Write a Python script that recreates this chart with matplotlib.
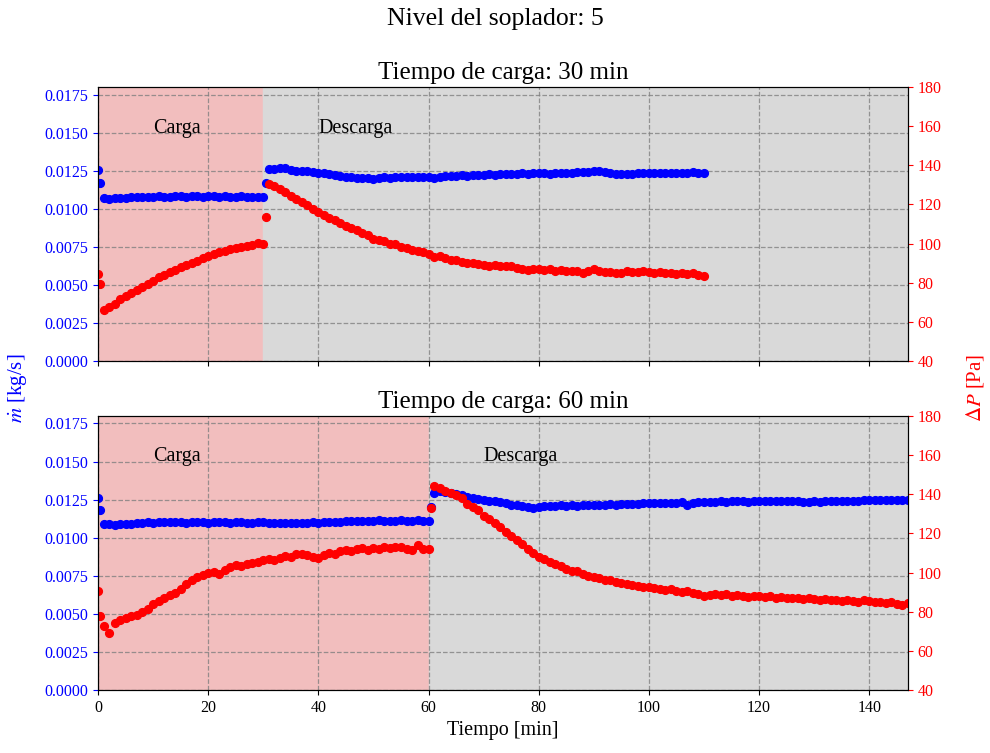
import numpy as np
import matplotlib
matplotlib.use('Agg')
import matplotlib.pyplot as plt

plt.rcParams.update({'font.family': 'Liberation Serif',
                     'mathtext.fontset': 'stix',
                     'font.size': 11})

# ---------------- datos ----------------
nivel = 5
t_carga = [30, 60]

# panel 1: carga 30 min
t1_c = [0, 0.4] + list(range(1, 31))
m1_c = [0.01255, 0.01167, 0.01068, 0.01066, 0.01070, 0.01068, 0.01072, 0.01075,
        0.01078, 0.01076, 0.01080, 0.01078, 0.01082, 0.01079, 0.01080, 0.01083,
        0.01081, 0.01079, 0.01082, 0.01085, 0.01080, 0.01083, 0.01081, 0.01079,
        0.01082, 0.01080, 0.01078, 0.01081, 0.01079, 0.01076, 0.01080, 0.01077]
p1_c = [84.6, 79.3, 66.0, 67.5, 69.0, 71.5, 73.2, 75.0, 76.2, 77.8, 79.5, 81.0,
        82.8, 84.0, 85.5, 86.5, 87.8, 89.0, 90.0, 91.2, 92.5, 93.8, 94.5, 95.5,
        96.0, 97.0, 97.5, 98.2, 99.0, 99.5, 100.5, 99.8]
t1_d = [30.5] + list(range(31, 111))
m1_d = [0.01167, 0.01262, 0.01264, 0.01266, 0.01265, 0.01258, 0.01250, 0.01248,
        0.01245, 0.01240, 0.01236, 0.01232, 0.01228, 0.01222, 0.01216, 0.01212,
        0.01210, 0.01205, 0.01205, 0.01200, 0.01196, 0.01204, 0.01208, 0.01205,
        0.01210, 0.01208, 0.01212, 0.01210, 0.01208, 0.01212, 0.01210, 0.01205,
        0.01212, 0.01216, 0.01218, 0.01215, 0.01220, 0.01218, 0.01222, 0.01220,
        0.01224, 0.01226, 0.01224, 0.01228, 0.01230, 0.01228, 0.01230, 0.01232,
        0.01230, 0.01232, 0.01234, 0.01232, 0.01230, 0.01232, 0.01234, 0.01236,
        0.01238, 0.01240, 0.01242, 0.01244, 0.01246, 0.01245, 0.01242, 0.01236,
        0.01230, 0.01226, 0.01228, 0.01230, 0.01232, 0.01234, 0.01232, 0.01234,
        0.01236, 0.01238, 0.01236, 0.01234, 0.01236, 0.01238, 0.01240, 0.01238,
        0.01236]
p1_d = [113.5, 130.6, 129.5, 128.0, 126.2, 124.5, 122.9, 121.5, 119.8, 117.9,
        116.0, 114.8, 113.2, 111.8, 110.5, 109.0, 108.2, 107.0, 105.4, 104.6,
        102.6, 102.0, 101.2, 100.0, 99.6, 98.5, 97.8, 96.6, 96.0, 95.8,
        94.8, 93.2, 93.8, 92.5, 91.4, 91.8, 90.6, 90.2, 90.0, 89.4,
        89.2, 88.8, 89.0, 88.6, 88.4, 88.8, 87.6, 87.0, 86.4, 86.8,
        87.0, 86.6, 86.8, 86.0, 86.4, 86.2, 86.0, 85.8, 85.2, 85.8,
        87.0, 86.0, 85.4, 85.6, 84.8, 85.2, 85.8, 85.6, 85.4, 86.0,
        85.4, 85.2, 85.6, 84.8, 85.0, 84.6, 85.0, 84.4, 85.2, 84.0,
        83.2]

# panel 2: carga 60 min
t2_c = [0, 0.4] + list(range(1, 61))
m2_c = [0.01261, 0.01180,
        0.01092, 0.01088, 0.01086, 0.01087, 0.01090, 0.01093, 0.01096, 0.01098, 0.01100, 0.01098,
        0.01102, 0.01104, 0.01100, 0.01103, 0.01101, 0.01099, 0.01102, 0.01104, 0.01101, 0.01099,
        0.01101, 0.01103, 0.01100, 0.01098, 0.01100, 0.01102, 0.01099, 0.01097, 0.01100, 0.01102,
        0.01098, 0.01096, 0.01099, 0.01097, 0.01094, 0.01098, 0.01096, 0.01099, 0.01101, 0.01098,
        0.01100, 0.01103, 0.01106, 0.01104, 0.01107, 0.01109, 0.01108, 0.01110, 0.01112, 0.01110,
        0.01116, 0.01112, 0.01110, 0.01111, 0.01114, 0.01112, 0.01110, 0.01113, 0.01111, 0.01112]
p2_c = [90.4, 77.6,
        72.5, 69.1, 74.2, 75.5, 76.8, 77.6, 78.4, 79.6, 81.5, 83.8,
        85.2, 87.0, 88.4, 89.6, 91.8, 94.0, 96.2, 97.5, 98.6, 99.8,
        100.5, 99.4, 101.2, 102.6, 103.8, 103.2, 104.2, 104.8, 105.6, 106.4,
        107.0, 106.2, 107.6, 108.4, 107.8, 109.2, 109.6, 108.8, 108.0, 107.4,
        108.8, 110.2, 109.6, 111.0, 111.6, 110.8, 111.8, 112.4, 111.6, 112.6,
        112.0, 113.2, 112.4, 112.8, 113.0, 112.2, 111.6, 114.2, 112.0, 111.8]
t2_d = [60.5] + list(range(61, 148))
m2_d = [0.01200,
        0.01294, 0.01305, 0.01300, 0.01292, 0.01284, 0.01278, 0.01270, 0.01262, 0.01256, 0.01250,
        0.01244, 0.01238, 0.01232, 0.01225, 0.01218, 0.01214, 0.01208, 0.01204, 0.01198, 0.01202,
        0.01206, 0.01210, 0.01208, 0.01212, 0.01210, 0.01213, 0.01211, 0.01214, 0.01212, 0.01216,
        0.01214, 0.01218, 0.01220, 0.01218, 0.01222, 0.01220, 0.01224, 0.01222, 0.01225, 0.01228,
        0.01226, 0.01230, 0.01228, 0.01226, 0.01230, 0.01232, 0.01218, 0.01228, 0.01232, 0.01234,
        0.01236, 0.01234, 0.01238, 0.01236, 0.01238, 0.01240, 0.01238, 0.01236, 0.01238, 0.01240,
        0.01238, 0.01240, 0.01242, 0.01240, 0.01244, 0.01242, 0.01238, 0.01236, 0.01236, 0.01238,
        0.01236, 0.01238, 0.01240, 0.01240, 0.01240, 0.01242, 0.01244, 0.01244, 0.01246, 0.01248,
        0.01248, 0.01248, 0.01248, 0.01248, 0.01248, 0.01248, 0.01248]
p2_d = [132.7,
        144.3, 143.4, 141.5, 140.5, 139.8, 138.2, 135.0, 133.4, 131.8, 129.0,
        127.2, 125.4, 123.0, 120.6, 118.8, 116.8, 114.6, 112.2, 110.2, 108.0,
        106.8, 105.6, 104.2, 103.2, 102.0, 101.0, 100.6, 99.2, 98.4, 97.6,
        97.0, 96.4, 96.0, 95.2, 94.6, 94.2, 93.6, 93.0, 92.8, 92.4,
        92.0, 91.8, 91.2, 91.6, 90.6, 90.2, 90.8, 89.6, 89.0, 88.2,
        88.6, 88.8, 88.4, 88.8, 88.2, 88.6, 88.0, 87.6, 88.2, 87.8,
        87.4, 88.0, 87.2, 87.6, 87.0, 86.8, 87.2, 86.6, 87.0, 86.4,
        86.0, 86.4, 85.8, 86.2, 85.6, 86.0, 85.4, 85.0, 85.8, 85.2,
        84.8, 85.0, 84.4, 84.8, 84.0, 83.6, 84.4]

ensayos = [(t1_c + t1_d, m1_c + m1_d, p1_c + p1_d),
           (t2_c + t2_d, m2_c + m2_d, p2_c + p2_d)]
t_max = 147

fig, axs = plt.subplots(2, 1, figsize=(9.9, 7.53), dpi=100, sharex=True)
fig.subplots_adjust(left=0.099, right=0.917, top=0.8845, bottom=0.0837, hspace=0.2)

for ax, tc, (t, m, p) in zip(axs, t_carga, ensayos):
    ax.axvspan(0, tc, color='#f2bebe', zorder=0)
    ax.axvspan(tc, t_max, color='#d9d9d9', zorder=0)
    ax.grid(True, color='gray', linestyle='--', linewidth=0.9, alpha=0.8)
    ax.plot(t, m, 'o', color='blue', ms=5.6, zorder=3)
    ax.set_ylim(0, 0.018)
    ax.set_yticks(np.arange(0, 0.0176, 0.0025))
    ax.yaxis.set_major_formatter(matplotlib.ticker.FormatStrFormatter('%.4f'))
    ax.tick_params(axis='y', colors='blue', labelsize=11.5)
    ax.tick_params(axis='x', labelsize=11.5)
    ax.set_xlim(0, t_max)
    ax.set_title('Tiempo de carga: %d min' % tc, fontsize=18)
    ax.text(10, 0.0153, 'Carga', fontsize=14.5, va='center')
    ax.text(tc + 10, 0.0153, 'Descarga', fontsize=14.5, va='center')

    ax2 = ax.twinx()
    ax2.plot(t, p, 'o', color='red', ms=5.6)
    ax2.set_ylim(40, 180)
    ax2.set_yticks(np.arange(40, 181, 20))
    ax2.tick_params(axis='y', colors='red', labelsize=11.5)

axs[1].set_xlabel('Tiempo [min]', fontsize=14.5)
fig.suptitle('Nivel del soplador: %d' % nivel, fontsize=18.5, y=0.99)
fig.text(0.018, 0.485, r'$\dot{m}$ [kg/s]', color='blue', fontsize=15,
         rotation=90, ha='center', va='center')
fig.text(0.985, 0.485, r'$\Delta P$ [Pa]', color='red', fontsize=15,
         rotation=90, ha='center', va='center')

fig.savefig('out.png', dpi=100)
